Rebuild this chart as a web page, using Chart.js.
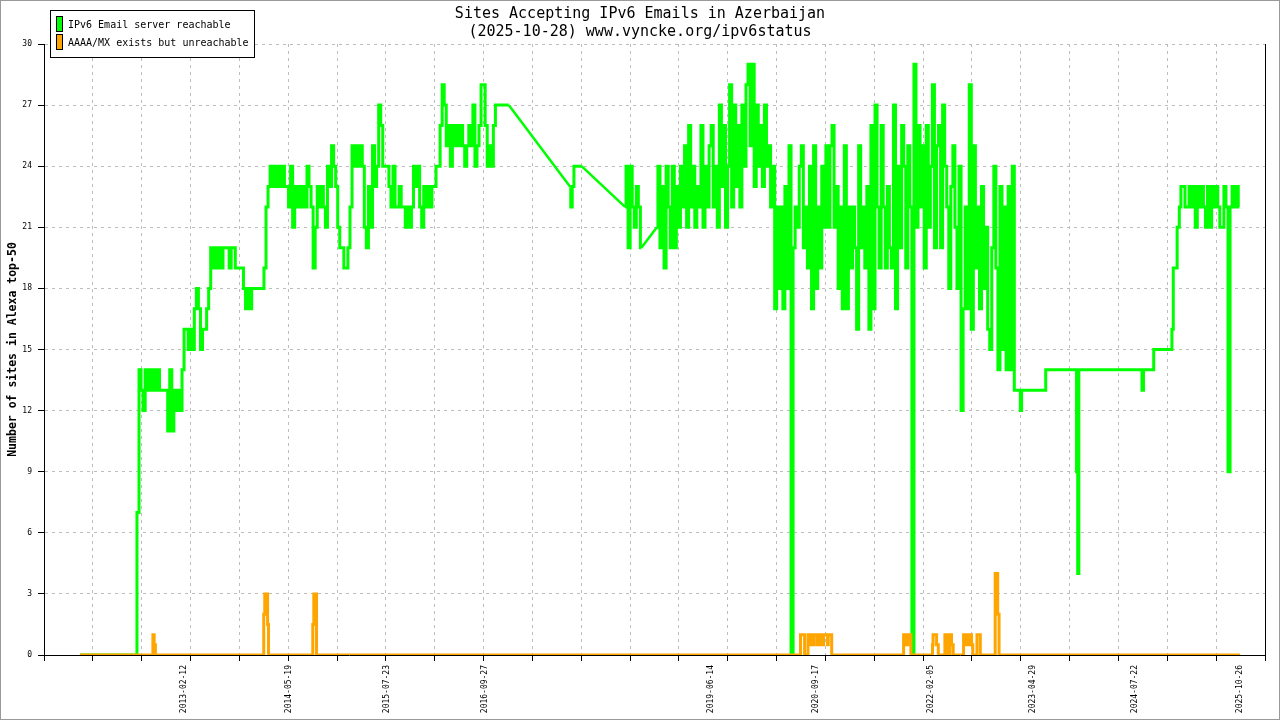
<!DOCTYPE html>
<html>
<head>
<meta charset="utf-8">
<title>Sites Accepting IPv6 Emails in Azerbaijan</title>
<script src="https://cdn.jsdelivr.net/npm/chart.js@4.4.1/dist/chart.umd.min.js"></script>
<style>
  html, body { margin: 0; padding: 0; background: #fff; }
  #chart { display: block; }
</style>
</head>
<body>
<canvas id="chart" width="1280" height="720"></canvas>
<script>
// labelled dates on the x axis
const tickDates = ['2013-02-12', '2014-05-19', '2015-07-23', '2016-09-27', '2019-06-14',
  '2020-09-17', '2022-02-05', '2023-04-29', '2024-07-22', '2025-10-26'];

// measurements taken every 9 days, one run per stretch of regular data
const sampleDays = 9;
const runStarts = ['2012-07-15', '2018-06-03', '2018-10-21', '2025-02-04'];

const reach2012 = [0,7,14,13,12,14,13,14,13,14,
  13,14,13,13,13,13,11,14,11,13,
  12,13,12,14,16,16,15,16,15,17,
  18,17,15,16,16,17,18,20,19,20,
  19,20,19,20,20,20,19,20,20,19,
  19,19,19,18,17,18,17,18,18,18,
  18,18,18,19,22,23,24,23,24,23,
  24,23,24,23,23,22,24,21,23,22,
  23,22,23,22,24,23,22,19,21,23,
  22,23,22,21,24,23,25,24,23,21,
  20,20,19,19,20,22,25,24,25,24,
  25,24,21,20,23,21,25,23,24,27,
  26,24,24,24,23,22,24,22,22,23,
  22,22,21,22,21,22,24,23,24,22,
  21,23,22,23,22,23,23,24,24,26,
  28,27,25,26,24,26,25,26,25,26,
  25,24,25,26,25,27,24,25,26,28,
  28,26,24,25,24,26,27,27,27,27,
  27,27,27];

const reach2018a = [22,24,20,24,22,21,23,22,20];

const reach2018b = [21,24,20,23,19,24,22,20,24,20,
  23,21,24,22,25,21,26,22,24,21,
  23,22,26,21,24,22,25,26,22,24,
  21,27,23,26,21,24,28,22,27,23,
  26,22,27,24,28,29,25,29,23,27,
  24,26,23,27,24,25,22,24,17,22,
  18,22,17,23,18,25,0,20,22,21,
  24,25,20,22,19,24,17,25,18,22,
  19,24,21,25,21,25,26,21,23,18,
  22,17,25,17,22,19,22,20,16,25,
  20,22,19,23,16,26,17,27,22,19,
  26,22,19,23,20,19,27,17,24,20,
  26,24,19,25,22,0,29,21,26,22,
  25,19,26,21,24,28,20,25,26,20,
  27,24,22,18,23,25,21,18,24,12,
  17,22,17,28,16,25,19,22,17,23,
  18,21,16,15,20,24,19,14,23,15,
  22,14,23,14,24,13];

const reach2025 = [22,23,23,22,22,23,22,23,21,23,
  22,23,22,21,23,21,23,22,23,22,
  21,21,23,22,9,22,23,22,23,22];

const runValues = [reach2012, reach2018a, reach2018b, reach2025];

// irregular reachable measurements (outside the regular runs)
const reachDates = ['2011-11-12', '2017-10-04', '2017-10-11', '2017-10-17', '2017-10-26', '2017-11-24',
  '2023-03-04', '2023-03-08', '2023-03-15', '2023-06-22', '2023-06-29', '2023-11-05',
  '2023-11-11', '2023-11-15', '2023-11-21', '2024-08-18', '2024-08-25', '2024-08-31',
  '2024-10-10', '2024-10-14', '2024-12-28', '2025-01-03', '2025-01-09', '2025-01-21',
  '2025-01-25', '2025-01-30'];
const reachValues = [0, 23, 22, 23, 24, 24,
  13, 12, 13, 13, 14, 14,
  9, 4, 14, 14, 13, 14,
  14, 15, 15, 16, 19, 19,
  21, 21];

// periods with no measurements: drawn as a straight line between both ends
const gapLinks = [['2017-01-08', '2017-10-04'], ['2017-11-24', '2018-06-03'], ['2018-08-14', '2018-10-21']];

// AAAA/MX exists but unreachable
const unreachDates = ['2011-11-12', '2012-09-25', '2012-09-30', '2012-10-06', '2012-10-11',
  '2014-01-26', '2014-01-29', '2014-02-04', '2014-02-11', '2014-02-16', '2014-02-19',
  '2014-08-29', '2014-09-02', '2014-09-07', '2014-09-15', '2014-09-18',
  '2020-07-12', '2020-07-14', '2020-07-30', '2020-08-01', '2020-08-14', '2020-08-16',
  '2020-08-27', '2020-08-29', '2020-09-07', '2020-09-09', '2020-09-21', '2020-09-23',
  '2020-10-01', '2020-10-04', '2020-10-13', '2020-10-15', '2020-10-22', '2020-10-23',
  '2020-11-08', '2020-11-10', '2020-11-14', '2020-11-26', '2020-11-28',
  '2021-10-08', '2021-10-10', '2021-10-21', '2021-10-23', '2021-10-27', '2021-10-28',
  '2021-11-09', '2021-11-11',
  '2022-02-12', '2022-02-14', '2022-02-17', '2022-03-02', '2022-03-04', '2022-03-10', '2022-03-11',
  '2022-04-08', '2022-04-09', '2022-04-19', '2022-04-21',
  '2022-04-30', '2022-05-01', '2022-05-07', '2022-05-08', '2022-05-14', '2022-05-16',
  '2022-06-29', '2022-06-30', '2022-07-12', '2022-07-13', '2022-07-21', '2022-07-22',
  '2022-08-03', '2022-08-04', '2022-08-08', '2022-08-10',
  '2022-08-27', '2022-08-28', '2022-09-10', '2022-09-12',
  '2022-11-15', '2022-11-16', '2022-11-26', '2022-11-27', '2022-12-02', '2022-12-03',
  '2025-10-26'];
const unreachValues = [0, 0, 1, 0.5, 0,
  0, 2, 3, 3, 1.5, 0,
  0, 1.5, 3, 3, 0,
  0, 1, 1, 0, 0, 1,
  1, 0.5, 0.5, 1, 1, 0.5,
  0.5, 1, 1, 0.5, 0.5, 1,
  1, 0.5, 1, 1, 0,
  0, 1, 1, 0.5, 0.5, 1,
  1, 0,
  0, 0.5, 1, 1, 0.5, 0.5, 0,
  0, 1, 1, 0,
  0, 1, 1, 0.5, 0.5, 0,
  0, 1, 1, 0.5, 0.5, 1,
  1, 0.5, 0.5, 0,
  0, 1, 1, 0,
  0, 4, 4, 2, 2, 0,
  0];

const yTicks = [0, 3, 6, 9, 12, 15, 18, 21, 24, 27, 30];

const toDay = s => Date.parse(s + 'T00:00:00Z') / 864e5;
const xMin = toDay('2011-06-07');
const xMax = toDay('2026-02-13');
const gridCount = 25;

const reachPoints = [];
runStarts.forEach((start, r) => {
  const d0 = toDay(start);
  runValues[r].forEach((v, i) => reachPoints.push({ x: d0 + i * sampleDays, y: v }));
});
reachDates.forEach((s, i) => reachPoints.push({ x: toDay(s), y: reachValues[i] }));
reachPoints.sort((a, b) => a.x - b.x);

// break the stepped series at the gaps and keep the two ends for a straight link
const gapStarts = new Set(gapLinks.map(g => toDay(g[0])));
const steppedPoints = [];
const linkPoints = [];
reachPoints.forEach((p, i) => {
  steppedPoints.push(p);
  const next = reachPoints[i + 1];
  if (next && gapStarts.has(p.x)) {
    steppedPoints.push({ x: (p.x + next.x) / 2, y: null });
    linkPoints.push(p, next, { x: next.x, y: null });
  }
});

const unreachPoints = unreachDates.map((s, i) => ({ x: toDay(s), y: unreachValues[i] }));

const labelByDay = new Map(tickDates.map(s => [toDay(s), s]));
const isLabelTick = t => t && labelByDay.has(t.value);

const mono = '"DejaVu Sans Mono", "Liberation Mono", monospace';
Chart.defaults.font.family = mono;
Chart.defaults.color = '#000';

// white page, grey outer frame, right plot border, title and legend box
const decorations = {
  id: 'decorations',
  beforeDraw(chart) {
    const ctx = chart.ctx;
    ctx.save();
    ctx.fillStyle = '#fff';
    ctx.fillRect(0, 0, chart.width, chart.height);
    ctx.restore();
  },
  afterDraw(chart) {
    const ctx = chart.ctx;
    const area = chart.chartArea;
    ctx.save();
    ctx.strokeStyle = '#000';
    ctx.lineWidth = 1;
    ctx.beginPath();
    ctx.moveTo(Math.round(area.right) + 0.5, area.top);
    ctx.lineTo(Math.round(area.right) + 0.5, area.bottom);
    ctx.stroke();

    ctx.fillStyle = '#000';
    ctx.textAlign = 'center';
    ctx.textBaseline = 'middle';
    ctx.font = '15px ' + mono;
    ctx.fillText('Sites Accepting IPv6 Emails in Azerbaijan', 640, 14);
    ctx.fillText('(2025-10-28) www.vyncke.org/ipv6status', 640, 32);

    // legend
    ctx.fillStyle = '#fff';
    ctx.fillRect(50.5, 10.5, 204, 47);
    ctx.strokeRect(50.5, 10.5, 204, 47);
    const items = [
      { text: 'IPv6 Email server reachable', color: '#00ff00', y: 16.5 },
      { text: 'AAAA/MX exists but unreachable', color: '#ffa500', y: 34.5 }
    ];
    ctx.font = '10px ' + mono;
    ctx.textAlign = 'left';
    items.forEach(it => {
      ctx.fillStyle = it.color;
      ctx.fillRect(56.5, it.y, 6, 15);
      ctx.strokeRect(56.5, it.y, 6, 15);
      ctx.fillStyle = '#000';
      ctx.fillText(it.text, 68, it.y + 9);
    });

    ctx.strokeStyle = '#9a9a9a';
    ctx.lineWidth = 2;
    ctx.strokeRect(0, 0, chart.width, chart.height);
    ctx.restore();
  }
};

new Chart(document.getElementById('chart'), {
  type: 'line',
  data: {
    datasets: [
      {
        label: 'IPv6 Email server reachable',
        data: steppedPoints,
        borderColor: '#00ff00',
        backgroundColor: '#00ff00',
        borderWidth: 3,
        stepped: 'middle',
        spanGaps: false,
        pointRadius: 0,
        order: 1
      },
      {
        label: 'IPv6 Email server reachable (no data)',
        data: linkPoints,
        borderColor: '#00ff00',
        borderWidth: 2.5,
        spanGaps: false,
        pointRadius: 0,
        tension: 0,
        order: 2
      },
      {
        label: 'AAAA/MX exists but unreachable',
        data: unreachPoints,
        borderColor: '#ffa500',
        backgroundColor: '#ffa500',
        borderWidth: 3,
        stepped: 'middle',
        pointRadius: 0,
        order: 0
      }
    ]
  },
  options: {
    responsive: false,
    animation: false,
    devicePixelRatio: 1,
    layout: { padding: { top: 44, right: 15, left: 0, bottom: 0 } },
    plugins: {
      legend: { display: false },
      tooltip: { enabled: false }
    },
    scales: {
      x: {
        type: 'linear',
        min: xMin,
        max: xMax,
        afterFit: scale => { scale.height = 65; },
        afterBuildTicks: axis => {
          const step = (xMax - xMin) / gridCount;
          const ticks = [];
          for (let k = 0; k <= gridCount; k++) ticks.push({ value: xMin + k * step });
          labelByDay.forEach((s, d) => ticks.push({ value: d }));
          ticks.sort((a, b) => a.value - b.value);
          axis.ticks = ticks;
        },
        grid: {
          color: c => isLabelTick(c.tick) ? 'rgba(0,0,0,0)' : '#bdbdbd',
          tickColor: c => isLabelTick(c.tick) ? 'rgba(0,0,0,0)' : '#000',
          tickLength: 6,
          lineWidth: 1
        },
        border: { color: '#000', width: 1, dash: [3, 4] },
        ticks: {
          autoSkip: false,
          minRotation: 90,
          maxRotation: 90,
          padding: 4,
          font: { size: 8 },
          color: '#000',
          callback: v => labelByDay.get(v) || ''
        }
      },
      y: {
        min: 0,
        max: 30,
        afterFit: scale => { scale.width = 44; },
        afterBuildTicks: axis => { axis.ticks = yTicks.map(v => ({ value: v })); },
        grid: { color: '#bdbdbd', tickColor: '#000', tickLength: 6, lineWidth: 1 },
        border: { color: '#000', width: 1, dash: [3, 4] },
        ticks: { padding: 6, font: { size: 8 }, color: '#000' },
        title: {
          display: true,
          text: 'Number of sites in Alexa top-50',
          font: { size: 11.5, weight: 'bold' },
          color: '#000',
          padding: { top: 6, bottom: 0 }
        }
      }
    }
  },
  plugins: [decorations]
});
</script>
</body>
</html>
